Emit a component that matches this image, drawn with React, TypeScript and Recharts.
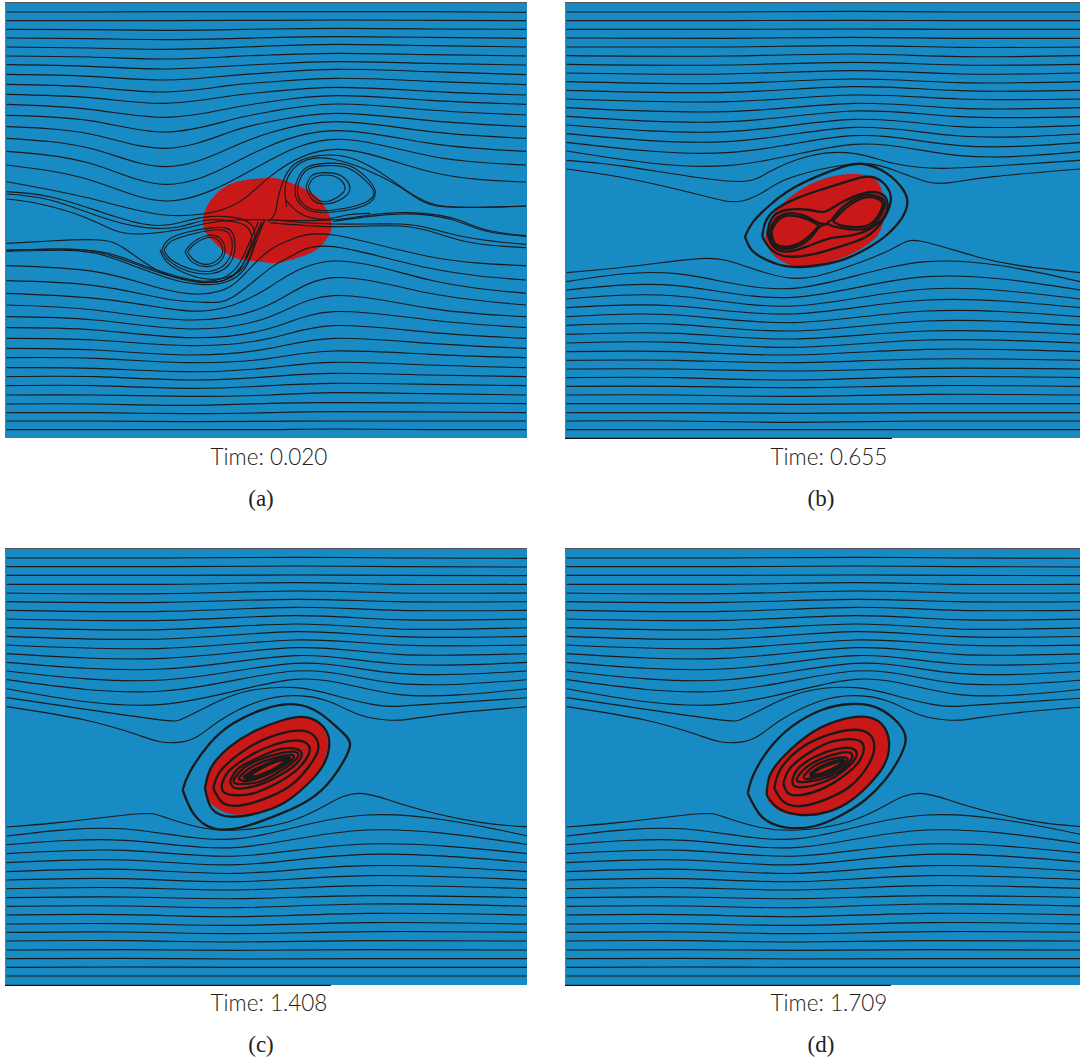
import React from "react";
import { ComposedChart, Line, Area, XAxis, YAxis } from "recharts";

type P = { x: number; y: number };
type Pt = [number, number];

const BLUE = "#188bc4";
const RED = "#c81818";
const INK = "#1a1a1a";

const crop = (ox: number, oy: number, pts: Pt[], sx = 1 / 3): P[] =>
  pts.map(([X, Y]) => ({ x: ox + X * sx, y: oy + Y / 3 }));
const band = (ox: number, oy: number, xs: number[], rows: number[][], sx = 1 / 3): P[][] =>
  rows.map((r) => r.map((Y, i) => ({ x: ox + xs[i] * sx, y: oy + Y / 3 })));

// ---------- panel (a)
const aTopX = [20, 270, 495, 690, 810, 1010, 1290, 1578];
const aTopRows = [
  [36, 36, 35, 35, 35, 35, 35, 37],
  [62, 62, 62, 61, 61, 60, 61, 62],
  [88, 89, 91, 89, 87, 85, 87, 88],
  [114, 116, 119, 116, 113, 110, 112, 115],
  [141, 144, 148, 143, 138, 133, 137, 141],
  [168, 171, 177, 170, 165, 160, 164, 168],
  [194, 199, 207, 198, 192, 185, 190, 195],
  [223, 229, 240, 227, 218, 208, 215, 224],
  [253, 261, 276, 256, 246, 235, 244, 254],
  [283, 293, 310, 288, 275, 262, 274, 285],
  [313, 328, 352, 325, 305, 287, 301, 313],
  [346, 362, 396, 360, 335, 312, 330, 345],
  [380, 402, 445, 396, 365, 340, 362, 380],
  [415, 445, 500, 444, 398, 365, 395, 415],
  [454, 490, 553, 495, 437, 392, 430, 454],
  [495, 540, 603, 545, 480, 418, 468, 495],
  [545, 595, 645, 620, 530, 448, 515, 546],
];
const aBottomX = [20, 285, 570, 810, 1000, 1290, 1578];
const aBottomRows = [
  [240, 255, 285, 238, 158, 205, 240],
  [275, 285, 312, 275, 212, 250, 275],
  [308, 315, 338, 310, 260, 285, 308],
  [340, 345, 362, 340, 302, 322, 340],
  [370, 375, 390, 370, 340, 355, 370],
  [398, 400, 413, 400, 378, 388, 398],
  [428, 430, 440, 428, 412, 420, 428],
  [455, 455, 465, 455, 445, 450, 455],
  [482, 482, 490, 482, 475, 478, 482],
  [510, 510, 514, 510, 503, 506, 510],
  [537, 537, 541, 535, 533, 534, 536],
  [563, 563, 566, 563, 560, 561, 563],
  [588, 588, 590, 589, 588, 588, 588],
  [614, 614, 614, 614, 612, 614, 614],
];
const aBottomNear: Pt[][] = [
  [[20, 122], [285, 140], [480, 190], [600, 207], [690, 185], [750, 130], [810, 75], [870, 45], [1000, 30], [1290, 95], [1578, 122]],
  [[20, 167], [285, 182], [500, 222], [620, 232], [700, 215], [810, 130], [880, 90], [1000, 65], [1290, 130], [1578, 165]],
  [[20, 205], [285, 220], [500, 250], [610, 258], [700, 240], [810, 185], [1000, 108], [1290, 165], [1578, 205]],
];
const aLowerBundle: Pt[][] = [
  [[20, 75], [200, 72], [300, 83], [400, 115], [500, 150], [600, 172], [680, 163], [725, 125], [755, 60], [785, -10]],
  [[20, 79], [200, 76], [300, 88], [400, 122], [500, 158], [600, 178], [680, 170], [735, 130], [765, 60], [793, -12]],
  [[20, 77], [150, 72], [300, 80], [400, 110], [500, 145], [600, 168], [670, 158], [715, 120], [745, 60], [775, -10]],
  [[20, 55], [150, 48], [300, 45], [380, 75], [470, 135], [550, 162], [640, 172], [700, 150], [745, 90], [775, 20], [795, -15]],
  [[555, 80], [575, 55], [620, 32], [660, 40], [675, 75], [660, 110], [620, 125], [575, 110], [555, 80]],
  [[563, 82], [580, 60], [622, 38], [655, 47], [668, 78], [655, 103], [620, 118], [582, 105], [563, 82]],
  [[485, 75], [505, 45], [560, 22], [640, 8], [690, 15], [705, 60], [690, 115], [640, 145], [570, 140], [510, 110], [485, 75]],
  [[492, 75], [512, 50], [565, 30], [640, 15], [683, 22], [697, 62], [680, 112], [635, 138], [575, 133], [515, 105], [492, 75]],
];
const aSpirals: Pt[][] = [
  [[20, 575], [150, 590], [300, 635], [430, 672], [520, 672], [610, 652], [700, 652], [750, 670], [765, 710], [750, 770], [710, 820], [640, 838], [570, 825], [505, 790], [480, 750]],
  [[20, 582], [150, 600], [300, 650], [430, 682], [540, 680], [620, 660], [700, 665], [740, 680], [755, 720], [735, 775]],
  [[20, 597], [120, 612], [250, 650], [340, 690], [420, 702], [530, 690], [610, 672], [700, 660], [810, 660], [990, 660], [1110, 645], [1210, 638], [1270, 640], [1360, 655], [1460, 690], [1578, 707]],
  [[810, 668], [1000, 680], [1200, 678], [1310, 700], [1400, 725], [1500, 738], [1578, 743]],
  [[820, 660], [1000, 672], [1200, 672], [1300, 688], [1400, 712], [1500, 726], [1578, 733]],
  [[1000, 664], [1110, 649], [1210, 642], [1270, 644], [1360, 660], [1460, 694], [1578, 709]],
];
const aUpperVortex: Pt[][] = [
  [[115, 560], [130, 535], [165, 525], [205, 535], [225, 565], [205, 590], [165, 605], [130, 590], [115, 560]],
  [[108, 560], [125, 527], [165, 518], [215, 528], [240, 565], [215, 597], [165, 612], [125, 597], [108, 560]],
  [[85, 550], [110, 510], [165, 497], [235, 505], [290, 545], [312, 578], [280, 610], [190, 630], [120, 625], [85, 590], [85, 550]],
  [[78, 550], [105, 505], [165, 490], [240, 498], [296, 540], [316, 578], [285, 616], [190, 636], [115, 630], [78, 592], [78, 550]],
  [[-5, 665], [15, 640], [25, 590], [45, 530], [85, 485], [170, 465], [260, 480], [350, 530], [430, 585], [500, 615], [600, 622], [768, 618]],
  [[50, 620], [45, 570], [60, 520], [110, 480], [190, 478], [290, 510], [380, 555], [450, 600], [520, 620], [650, 622], [768, 618]],
  [[48, 600], [90, 640], [160, 658], [230, 645], [300, 640]],
];
const aBlobX = [203, 206, 217, 233, 253, 270, 283, 303, 320, 330, 331.5];
const aBlobTop = [222, 208, 193, 183, 179, 178, 180, 188, 200, 217, 226];
const aBlobBottom = [222, 233, 245, 257, 261, 263, 262, 256, 247, 233, 227];

// ---------- panel (b)
const bTopX = [20, 500, 880, 1200, 1560];
const bTopRows = [
  [36, 36, 34, 36, 36],
  [62, 62, 61, 62, 62],
  [88, 88, 87, 88, 88],
  [114, 115, 112, 115, 115],
  [141, 141, 137, 142, 141],
  [167, 168, 162, 170, 167],
  [193, 195, 187, 195, 193],
  [219, 222, 212, 222, 219],
  [245, 250, 237, 248, 245],
  [271, 277, 260, 272, 271],
  [297, 305, 285, 297, 297],
  [323, 335, 310, 325, 323],
  [349, 365, 333, 350, 350],
  [375, 395, 358, 380, 376],
  [401, 425, 382, 408, 402],
  [427, 458, 407, 437, 428],
  [453, 497, 433, 467, 455],
];
const bTopNear: Pt[][] = [
  [[20, 481], [200, 500], [500, 543], [620, 520], [740, 470], [880, 460], [1000, 490], [1150, 505], [1350, 495], [1560, 481]],
  [[20, 507], [200, 535], [400, 580], [490, 602], [550, 602], [620, 570], [700, 530], [880, 492], [1000, 510], [1100, 545], [1170, 548], [1300, 530], [1560, 507]],
];
const bBottomX = [20, 350, 700, 1100, 1560];
const bBottomRows = [
  [170, 146, 190, 110, 170],
  [195, 182, 217, 155, 195],
  [222, 213, 243, 192, 222],
  [248, 243, 267, 225, 248],
  [275, 270, 293, 258, 275],
  [301, 298, 318, 288, 301],
  [328, 325, 342, 318, 328],
  [354, 352, 367, 345, 354],
  [380, 380, 390, 373, 380],
  [406, 406, 413, 402, 406],
  [432, 432, 438, 430, 432],
  [458, 458, 465, 455, 458],
  [484, 484, 488, 482, 484],
  [510, 510, 514, 508, 510],
  [536, 536, 538, 536, 536],
  [563, 563, 565, 563, 563],
  [588, 588, 592, 588, 588],
  [614, 614, 614, 614, 614],
];
const bBottomNear: Pt[][] = [
  [[20, 143], [250, 120], [440, 100], [560, 125], [700, 160], [850, 130], [1000, 70], [1080, 48], [1250, 95], [1400, 125], [1560, 143]],
];
const bLoops: Pt[][] = [
  [[45, 230], [70, 185], [120, 135], [180, 90], [260, 50], [340, 20], [400, 12], [470, 40], [520, 90], [532, 130], [515, 175], [470, 225], [420, 260], [350, 295], [270, 315], [180, 320], [110, 300], [65, 270], [45, 230]],
  [[97, 230], [105, 190], [135, 150], [200, 115], [270, 90], [350, 65], [420, 50], [470, 80], [482, 125], [465, 170], [440, 205], [400, 235], [330, 260], [260, 280], [180, 290], [125, 270], [97, 230]],
  [[112, 220], [125, 175], [170, 150], [240, 150], [285, 155], [330, 130], [400, 100], [450, 100], [472, 125], [465, 165], [430, 200], [370, 225], [300, 235], [230, 260], [170, 275], [130, 260], [112, 220]],
  [[118, 215], [135, 180], [175, 160], [230, 170], [270, 190], [294, 192], [270, 200], [245, 230], [200, 260], [150, 265], [125, 245], [118, 215]],
  [[124, 215], [140, 185], [175, 167], [228, 176], [262, 194], [262, 202], [240, 226], [198, 254], [152, 259], [130, 242], [124, 215]],
  [[305, 180], [340, 140], [400, 107], [445, 110], [465, 130], [450, 170], [410, 205], [340, 205], [294, 192], [305, 180]],
  [[312, 180], [345, 146], [400, 114], [442, 116], [458, 132], [444, 168], [406, 198], [342, 198], [312, 186], [312, 180]],
];
const bBlobX = [765, 771.7, 783.3, 803.3, 830, 853.3, 873.3, 881.7, 886.7];
const bBlobTop = [238, 217, 203, 188, 177, 174, 178, 190, 205];
const bBlobBottom = [238, 253, 262, 268, 262, 253, 240, 227, 207];

// ---------- panels (c) and (d): same far field
const cTopX = [20, 480, 870, 1170, 1555];
const cTopRows = [
  [39, 39, 37, 39, 40],
  [65, 65, 63, 65, 66],
  [91, 91, 90, 91, 92],
  [118, 118, 113, 118, 118],
  [144, 146, 138, 144, 144],
  [170, 172, 163, 170, 170],
  [196, 199, 187, 196, 196],
  [222, 226, 212, 224, 222],
  [248, 254, 237, 252, 248],
  [274, 282, 260, 275, 274],
  [300, 310, 285, 300, 300],
  [326, 340, 308, 328, 326],
  [352, 372, 332, 357, 352],
  [378, 405, 355, 385, 378],
  [404, 438, 378, 415, 404],
  [431, 478, 403, 448, 431],
];
const cTopNear: Pt[][] = [
  [[20, 458], [200, 485], [460, 523], [540, 520], [620, 480], [720, 440], [870, 428], [1000, 455], [1120, 482], [1200, 482], [1350, 472], [1555, 458]],
  [[20, 485], [250, 525], [400, 568], [470, 590], [525, 592], [580, 575], [650, 525], [760, 470], [870, 452], [970, 470], [1060, 510], [1140, 525], [1200, 523], [1350, 503], [1555, 485]],
];
const cBottomX = [20, 370, 700, 1080, 1555];
const cBottomRows = [
  [198, 177, 206, 135, 198],
  [224, 211, 232, 180, 224],
  [251, 241, 258, 222, 251],
  [278, 270, 284, 253, 278],
  [305, 298, 310, 287, 305],
  [330, 326, 335, 317, 330],
  [356, 353, 360, 347, 356],
  [383, 381, 386, 377, 383],
  [409, 408, 413, 402, 409],
  [435, 434, 440, 430, 435],
  [462, 461, 466, 458, 462],
  [487, 486, 491, 485, 487],
  [513, 512, 516, 512, 513],
  [540, 539, 541, 539, 540],
  [566, 565, 567, 566, 566],
  [592, 591, 592, 592, 592],
  [618, 618, 618, 618, 618],
];
const cBottomNear: Pt[][] = [
  [[20, 171], [200, 155], [400, 132], [480, 140], [580, 170], [700, 180], [850, 155], [960, 105], [1060, 70], [1200, 108], [1400, 155], [1555, 171]],
];
const cLoops: Pt[][] = [
  [[38, 270], [60, 215], [120, 130], [190, 70], [280, 28], [375, 13], [450, 40], [510, 90], [540, 130], [520, 185], [470, 255], [400, 310], [310, 350], [215, 382], [130, 385], [70, 340], [38, 270]],
  [[105, 265], [125, 200], [180, 140], [250, 95], [340, 60], [410, 52], [460, 80], [478, 130], [460, 195], [410, 255], [340, 310], [260, 340], [180, 350], [125, 325], [105, 265]],
  [[130, 265], [150, 215], [210, 160], [290, 115], [380, 92], [430, 105], [445, 145], [420, 195], [370, 250], [300, 290], [220, 315], [160, 310], [130, 265]],
  [[155, 255], [175, 215], [235, 170], [310, 135], [380, 122], [415, 135], [415, 165], [380, 210], [320, 250], [250, 280], [190, 285], [160, 275], [155, 255]],
  [[180, 245], [205, 205], [260, 175], [320, 150], [370, 145], [395, 160], [380, 190], [340, 220], [280, 250], [220, 265], [190, 262], [180, 245]],
  [[190, 240], [220, 205], [270, 178], [330, 160], [370, 155], [385, 165], [365, 190], [320, 220], [270, 245], [220, 252], [195, 250], [190, 240]],
  [[205, 235], [235, 207], [280, 185], [330, 170], [365, 165], [370, 175], [345, 195], [300, 220], [255, 238], [220, 243], [205, 235]],
  [[220, 232], [250, 210], [290, 192], [335, 175], [358, 172], [355, 185], [325, 205], [285, 225], [240, 238], [220, 232]],
];
const cCore: Pt[][] = [
  [[226, 231], [270, 205], [320, 182], [352, 177], [350, 184], [320, 204], [265, 229], [226, 231]],
];
const cBlobX = [204.3, 210, 226.7, 250, 280, 306.7, 321.7, 328.3];
const cBlobTop = [787, 768, 750, 733, 721, 717, 725, 742];
const cBlobBottom = [787, 802, 813, 814, 805, 785, 767, 745];

const dLoops: Pt[][] = [
  [[38, 280], [55, 225], [100, 150], [170, 80], [260, 30], [350, 12], [430, 25], [490, 70], [512, 120], [490, 180], [450, 240], [390, 300], [320, 345], [240, 378], [150, 382], [80, 350], [38, 280]],
  [[95, 285], [105, 225], [150, 165], [220, 105], [300, 65], [385, 50], [440, 72], [462, 125], [450, 190], [410, 245], [350, 300], [280, 335], [200, 345], [130, 325], [95, 285]],
  [[118, 265], [135, 210], [190, 150], [265, 110], [345, 90], [400, 100], [418, 140], [400, 195], [350, 255], [280, 295], [200, 318], [145, 305], [118, 265]],
  [[145, 250], [165, 205], [220, 160], [290, 125], [355, 118], [385, 135], [375, 180], [330, 225], [265, 265], [200, 285], [160, 280], [145, 250]],
  [[172, 240], [190, 205], [240, 170], [300, 148], [350, 145], [365, 165], [345, 195], [300, 230], [240, 255], [195, 262], [175, 255], [172, 240]],
  [[185, 235], [210, 205], [255, 178], [310, 160], [345, 158], [350, 175], [325, 205], [275, 232], [220, 245], [190, 245], [185, 235]],
  [[205, 230], [235, 200], [285, 178], [325, 172], [338, 180], [320, 200], [280, 222], [230, 235], [210, 237], [205, 230]],
];
const dCore: Pt[][] = [
  [[225, 224], [255, 203], [300, 186], [324, 182], [320, 192], [290, 210], [245, 226], [225, 224]],
];
const dBlobX = [766.7, 770, 785, 808.3, 835, 863.3, 881.7, 889];
const dBlobTop = [795, 775, 755, 735, 721.7, 716.7, 724, 741.7];
const dBlobBottom = [795, 803.3, 813.3, 815, 809.3, 791.7, 768.3, 745];

const times = ["Time: 0.020", "Time: 0.655", "Time: 1.408", "Time: 1.709"];
const captions = ["(a)", "(b)", "(c)", "(d)"];

const SX = 530 / 1560; // crops of panels c and d were read at this horizontal scale
const panels = [
  {
    left: 5, width: 522, top: 3, bottom: 438, black: 0,
    xs: aBlobX, hi: aBlobTop, lo: aBlobBottom,
    thin: [
      ...band(0, 0, aTopX, aTopRows),
      ...aBottomNear.map((l) => crop(0, 225, l)),
      ...band(0, 225, aBottomX, aBottomRows),
      ...aLowerBundle.map((l) => crop(0, 225, l)),
      ...aSpirals.map((l) => crop(0, 0, l)),
      ...aUpperVortex.map((l) => crop(270, 0, l)),
    ],
    thick: [] as P[][],
    core: [] as P[][],
  },
  {
    left: 565, width: 515, top: 3, bottom: 438, black: 892,
    xs: bBlobX, hi: bBlobTop, lo: bBlobBottom,
    thin: [
      ...band(560, 0, bTopX, bTopRows),
      ...bTopNear.map((l) => crop(560, 0, l)),
      ...bBottomNear.map((l) => crop(560, 225, l)),
      ...band(560, 225, bBottomX, bBottomRows),
    ],
    thick: bLoops.map((l) => crop(730, 160, l)),
    core: [] as P[][],
  },
  {
    left: 5, width: 522, top: 549, bottom: 985, black: 331,
    xs: cBlobX, hi: cBlobTop, lo: cBlobBottom,
    thin: [
      ...band(0, 545, cTopX, cTopRows, SX),
      ...cTopNear.map((l) => crop(0, 545, l, SX)),
      ...cBottomNear.map((l) => crop(0, 770, l, SX)),
      ...band(0, 770, cBottomX, cBottomRows, SX),
    ],
    thick: cLoops.map((l) => crop(170, 700, l)),
    core: cCore.map((l) => crop(170, 700, l)),
  },
  {
    left: 565, width: 515, top: 549, bottom: 985, black: 891,
    xs: dBlobX, hi: dBlobTop, lo: dBlobBottom,
    thin: [
      ...band(560, 545, cTopX, cTopRows, SX),
      ...cTopNear.map((l) => crop(560, 545, l, SX)),
      ...cBottomNear.map((l) => crop(560, 770, l, SX)),
      ...band(560, 770, cBottomX, cBottomRows, SX),
    ],
    thick: dLoops.map((l) => crop(735, 700, l)),
    core: dCore.map((l) => crop(735, 700, l)),
  },
];

const PAD = 2;

function Panel({ p }: { p: (typeof panels)[number] }) {
  const blob = p.xs.map((x, i) => ({ x, band: [p.hi[i], p.lo[i]] }));
  const topEdge = [{ x: p.left, y: p.top - 0.5 }, { x: p.left + p.width, y: p.top - 0.5 }];
  const bottomEdge = p.black ? [{ x: p.left, y: p.bottom + 0.3 }, { x: p.black, y: p.bottom + 0.3 }] : null;
  const h = p.bottom - p.top + PAD * 2;
  return (
    <>
      <div style={{ position: "absolute", left: p.left, top: p.top, width: p.width, height: p.bottom - p.top, background: BLUE }} />
      <div style={{ position: "absolute", left: p.left, top: p.top - PAD, width: p.width, height: h }}>
        <ComposedChart width={p.width} height={h} data={blob} margin={{ top: 0, right: 0, bottom: 0, left: 0 }}>
          <XAxis dataKey="x" type="number" domain={[p.left, p.left + p.width]} hide allowDataOverflow />
          <YAxis type="number" domain={[p.top - PAD, p.bottom + PAD]} reversed hide allowDataOverflow />
          <Area dataKey="band" type="natural" fill={RED} fillOpacity={1} stroke="none" isAnimationActive={false} dot={false} activeDot={false} />
          {p.thin.map((l, i) => (
            <Line key={"t" + i} data={l} dataKey="y" type="natural" stroke={INK} strokeWidth={1.1} dot={false} activeDot={false} isAnimationActive={false} />
          ))}
          {p.thick.map((l, i) => (
            <Line key={"k" + i} data={l} dataKey="y" type="natural" stroke={INK} strokeWidth={2.3} dot={false} activeDot={false} isAnimationActive={false} />
          ))}
          {p.core.map((l, i) => (
            <Line key={"c" + i} data={l} dataKey="y" type="natural" stroke={INK} strokeWidth={4} dot={false} activeDot={false} isAnimationActive={false} />
          ))}
          <Line data={topEdge} dataKey="y" type="linear" stroke="#555" strokeWidth={1} dot={false} activeDot={false} isAnimationActive={false} />
          {bottomEdge && (
            <Line data={bottomEdge} dataKey="y" type="linear" stroke="#111" strokeWidth={1.2} dot={false} activeDot={false} isAnimationActive={false} />
          )}
        </ComposedChart>
      </div>
    </>
  );
}

const labelStyle = (cx: number, cy: number, font: string, size: number, weight: number): React.CSSProperties => ({
  position: "absolute",
  left: cx - 100,
  width: 200,
  top: cy - 15,
  height: 30,
  lineHeight: "30px",
  textAlign: "center",
  fontFamily: font,
  fontSize: size,
  fontWeight: weight,
  color: "#222",
});

export default function App() {
  const timeAt = [[269, 457], [829, 457], [269, 1003], [829, 1003]];
  const capAt = [[261, 499], [821, 499], [261, 1045], [821, 1045]];
  return (
    <div style={{ position: "absolute", left: 0, top: 0, width: 1080, height: 1059, background: "#fff", overflow: "hidden" }}>
      {panels.map((p, i) => (
        <Panel key={i} p={p} />
      ))}
      {times.map((t, i) => (
        <div key={t} style={labelStyle(timeAt[i][0], timeAt[i][1], "Lato", 22.5, 300)}>{t}</div>
      ))}
      {captions.map((t, i) => (
        <div key={t} style={labelStyle(capAt[i][0], capAt[i][1], "'Liberation Serif'", 23, 400)}>{t}</div>
      ))}
    </div>
  );
}
